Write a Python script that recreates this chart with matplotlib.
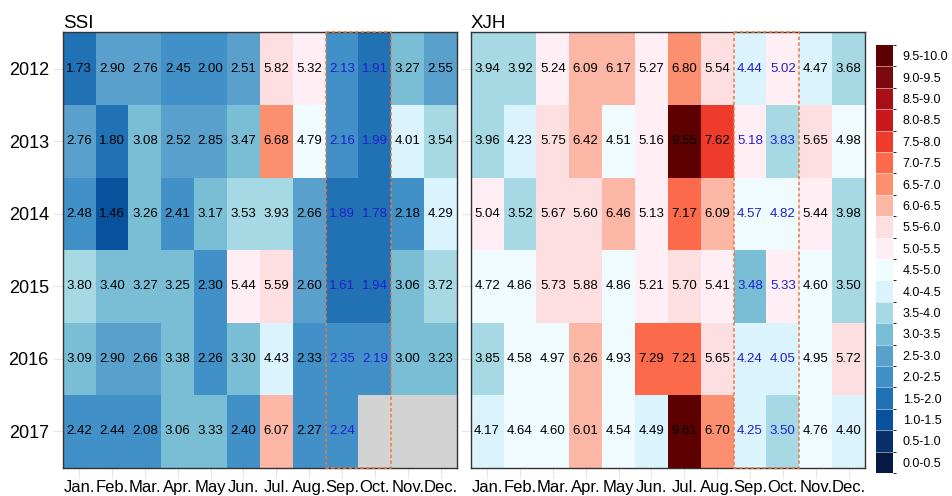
import numpy as np
import matplotlib
matplotlib.use('Agg')
import matplotlib.pyplot as plt
import matplotlib.patches as patches
from matplotlib.colors import ListedColormap, BoundaryNorm
from matplotlib.cm import ScalarMappable

plt.rcParams['font.family'] = ['Liberation Sans', 'DejaVu Sans']

# Data
years = ['2012', '2013', '2014', '2015', '2016', '2017']
months = ['Jan.', 'Feb.', 'Mar.', 'Apr.', 'May', 'Jun.', 'Jul.', 'Aug.', 'Sep.', 'Oct.', 'Nov.', 'Dec.']

ssi_2012 = [1.73, 2.90, 2.76, 2.45, 2.00, 2.51, 5.82, 5.32, 2.13, 1.91, 3.27, 2.55]
ssi_2013 = [2.76, 1.80, 3.08, 2.52, 2.85, 3.47, 6.68, 4.79, 2.16, 1.99, 4.01, 3.54]
ssi_2014 = [2.48, 1.46, 3.26, 2.41, 3.17, 3.53, 3.93, 2.66, 1.89, 1.78, 2.18, 4.29]
ssi_2015 = [3.80, 3.40, 3.27, 3.25, 2.30, 5.44, 5.59, 2.60, 1.61, 1.94, 3.06, 3.72]
ssi_2016 = [3.09, 2.90, 2.66, 3.38, 2.26, 3.30, 4.43, 2.33, 2.35, 2.19, 3.00, 3.23]
ssi_2017 = [2.42, 2.44, 2.08, 3.06, 3.33, 2.40, 6.07, 2.27, 2.24, np.nan, np.nan, np.nan]

xjh_2012 = [3.94, 3.92, 5.24, 6.09, 6.17, 5.27, 6.80, 5.54, 4.44, 5.02, 4.47, 3.68]
xjh_2013 = [3.96, 4.23, 5.75, 6.42, 4.51, 5.16, 9.55, 7.62, 5.18, 3.83, 5.65, 4.98]
xjh_2014 = [5.04, 3.52, 5.67, 5.60, 6.46, 5.13, 7.17, 6.09, 4.57, 4.82, 5.44, 3.98]
xjh_2015 = [4.72, 4.86, 5.73, 5.88, 4.86, 5.21, 5.70, 5.41, 3.48, 5.33, 4.60, 3.50]
xjh_2016 = [3.85, 4.58, 4.97, 6.26, 4.93, 7.29, 7.21, 5.65, 4.24, 4.05, 4.95, 5.72]
xjh_2017 = [4.17, 4.64, 4.60, 6.01, 4.54, 4.49, 9.61, 6.70, 4.25, 3.50, 4.76, 4.40]

ssi = np.array([ssi_2012, ssi_2013, ssi_2014, ssi_2015, ssi_2016, ssi_2017])
xjh = np.array([xjh_2012, xjh_2013, xjh_2014, xjh_2015, xjh_2016, xjh_2017])

bin_edges = np.arange(0, 10.01, 0.5)
bin_labels = ['%.1f-%.1f' % (lo, hi) for lo, hi in zip(bin_edges[:-1], bin_edges[1:])]
bin_colors = ['#061a45', '#08306b', '#08519c', '#2171b5', '#4190c8', '#5aa0cd',
              '#79bed5', '#a6d9e3', '#daf3fc', '#f0fbff', '#ffeff4', '#fddfe1',
              '#fbb6a5', '#fc8f6f', '#fb6a4a', '#ef3b2c', '#cb181d', '#a50f15',
              '#7a0a10', '#5c0000']
highlight_months = ['Sep.', 'Oct.']

cmap = ListedColormap(bin_colors)
cmap.set_bad('#d3d3d3')
norm = BoundaryNorm(bin_edges, cmap.N)

fig = plt.figure(figsize=(9.53, 4.96), dpi=100)
ax_l = fig.add_axes([0.0658, 0.0571, 0.4137, 0.8774])
ax_r = fig.add_axes([0.4939, 0.0571, 0.4137, 0.8774])
cax = fig.add_axes([0.9197, 0.0464, 0.0173, 0.863])

hl = [months.index(m) for m in highlight_months]

for ax, data, name in [(ax_l, ssi, 'SSI'), (ax_r, xjh, 'XJH')]:
    ax.pcolormesh(np.arange(len(months) + 1), np.arange(len(years) + 1),
                  np.ma.masked_invalid(data), cmap=cmap, norm=norm)
    ax.set_xlim(0, len(months))
    ax.set_ylim(len(years), 0)

    # cell labels
    for i in range(len(years)):
        for j in range(len(months)):
            if np.isnan(data[i, j]):
                continue
            col = '#2020cc' if j in hl else 'black'
            ax.text(j + 0.5, i + 0.5, '%.2f' % data[i, j], ha='center', va='center',
                    fontsize=9.5, color=col)

    # dashed box around Sep/Oct
    ax.add_patch(patches.Rectangle((min(hl), 0), len(hl), len(years), fill=False,
                                   edgecolor='#f07838', linewidth=1.1,
                                   linestyle=(0, (2.2, 1.6)), zorder=5, clip_on=False))

    ax.set_xticks(np.arange(len(months)) + 0.5)
    ax.set_xticklabels(months, fontsize=12)
    ax.set_yticks(np.arange(len(years)) + 0.5)
    if ax is ax_l:
        ax.set_yticklabels(years, fontsize=13)
    else:
        ax.set_yticklabels([])
    ax.tick_params(axis='both', color='#e6e6e6', length=7, width=0.8, pad=3)
    ax.tick_params(axis='x', pad=2)
    for s in ax.spines.values():
        s.set_color('#333333')
        s.set_linewidth(1.0)
    ax.set_title(name, loc='left', fontsize=13.5, pad=3)

# discrete legend
cb = fig.colorbar(ScalarMappable(norm=norm, cmap=cmap), cax=cax,
                  boundaries=bin_edges, ticks=(bin_edges[:-1] + bin_edges[1:]) / 2)
cb.set_ticklabels(bin_labels)
cb.outline.set_visible(False)
cb.ax.tick_params(length=0, labelsize=9, pad=7)
for e in bin_edges[1:-1]:
    cax.axhline(e, color='white', linewidth=0.5, alpha=0.7)

fig.savefig('out.png', dpi=100)
